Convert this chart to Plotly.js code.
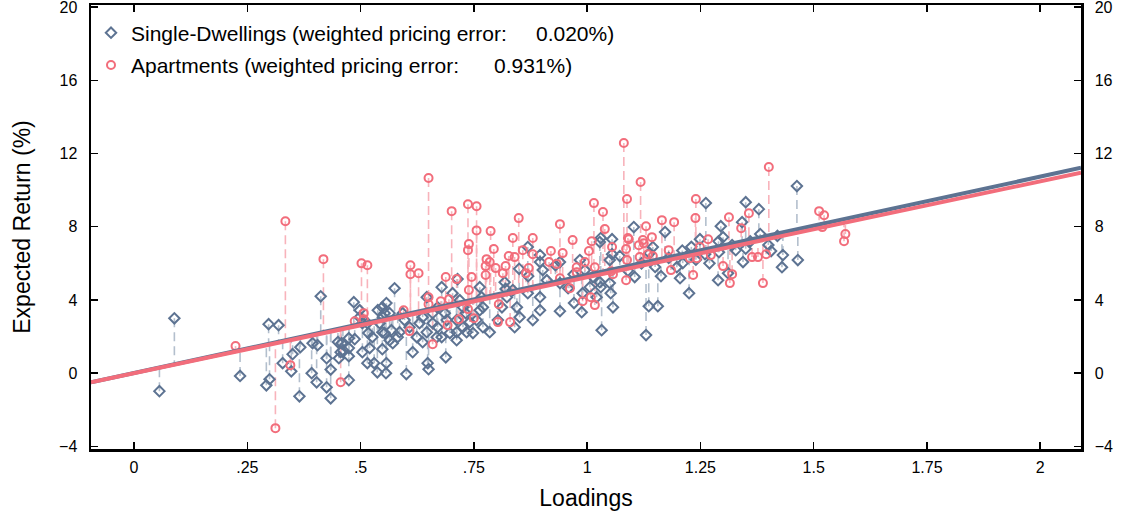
<!DOCTYPE html>
<html>
<head>
<meta charset="utf-8">
<script src="https://cdn.plot.ly/plotly-3.0.1.min.js"></script>
<style>html,body{margin:0;padding:0;background:#fff;}#chart{width:1122px;height:518px;}</style>
</head>
<body>
<div id="chart"></div>
<script>
// Single-Dwellings (diamonds)
const sdX = [0.056,0.089,0.234,0.297,0.319,0.292,0.299,0.328,0.347,0.35,0.365,0.367,0.394,0.392,0.403,0.405,0.412,0.425,0.425,0.434,0.434,0.452,0.45,0.458,0.461,0.474,0.474,0.485,0.487,0.498,0.504,0.517,0.515,0.537,0.548,0.556,0.456,0.504,0.498,0.515,0.526,0.52,0.53,0.474,0.474,0.538,0.548,0.557,0.553,0.542,0.548,0.557,
0.575,0.601,0.648,0.65,0.688,0.615,0.637,0.564,0.568,0.586,0.597,0.564,0.646,0.659,0.67,0.679,0.697,0.679,0.714,0.703,0.719,0.726,0.734,0.748,0.712,0.732,0.763,0.767,0.77,0.785,0.803,0.812,0.823,0.818,0.836,0.845,0.84,0.851,0.869,0.869,0.88,0.896,0.896,0.896,0.902,0.911,0.94,0.94,0.94,0.958,0.971,0.988,0.99,1.006,1.028,1.032,1.021,1.057,1.052,1.05,1.055,1.028,1.072,0.984,0.995,1.013,
0.549,0.553,0.571,0.582,0.593,0.608,0.624,0.63,0.637,0.646,0.659,0.668,0.67,0.686,0.69,0.712,0.712,0.726,0.741,0.756,0.763,0.77,
1.463,1.262,1.35,1.379,1.103,1.172,1.295,1.342,1.055,1.145,1.249,1.3,1.382,1.406,1.432,1.43,1.465,1.344,1.328,1.291,1.289,1.311,1.105,1.163,1.225,1.198,1.211,1.205,1.138,1.136,1.156,1.13,1.05,1.03,1.03,
1.18,1.21,1.23,1.26,1.27,1.32,1.36,1.4,1.12,1.09,1.15,1.24,1.29,1.35,1.42,0.896,0.85,0.93,0.97,0.87,0.82];
const sdY = [-0.98,3.0,-0.15,2.68,2.62,-0.66,-0.33,0.55,0.1,1.04,-1.26,1.42,1.64,0.0,-0.5,1.53,4.2,0.82,-0.77,0.2,-1.37,0.82,1.7,1.64,1.26,0.93,-0.38,3.88,1.86,3.44,1.15,2.19,0.55,0.05,1.31,0.0,1.15,2.73,3.06,2.73,1.97,1.37,0.55,1.91,1.37,3.44,3.6,3.83,3.28,2.73,2.24,0.55,
4.64,-0.05,0.55,0.22,0.87,1.15,1.69,1.8,2.35,2.24,2.9,3.28,4.15,3.28,2.51,1.97,2.19,4.7,5.14,4.37,3.99,2.51,2.24,2.19,1.8,3.28,4.7,4.15,3.6,2.24,2.9,3.6,4.15,4.97,4.54,3.6,2.51,3.06,6.89,4.37,2.9,3.44,4.15,6.07,5.63,5.08,3.39,4.92,6.07,4.64,3.83,3.33,4.37,4.7,4.97,2.35,4.15,3.6,4.37,6.18,7.32,7.16,6.4,6.18,5.63,5.25,
3.06,2.19,1.64,1.97,3.28,2.51,1.97,2.73,3.06,2.24,2.73,1.97,3.6,3.28,2.9,2.9,2.24,3.6,2.79,2.9,3.44,2.51,
10.22,9.29,9.34,8.96,7.98,7.71,8.03,8.25,6.5,6.89,7.32,7.43,7.6,6.67,6.45,5.79,6.18,6.07,6.72,6.61,5.08,5.46,5.25,5.3,4.37,5.79,6.01,5.19,6.56,3.66,3.66,2.08,4.92,4.7,7.38,
6.3,6.7,6.9,6.5,6.0,7.0,7.2,7.0,6.0,5.6,5.8,6.2,7.2,6.8,7.5,6.45,5.7,5.9,5.4,5.3,4.6];

// Apartments (circles)
const apX = [0.224,0.334,0.312,0.345,0.418,0.456,0.487,0.502,0.515,0.507,0.507,0.65,0.61,0.61,0.628,0.595,0.608,0.659,0.65,0.65,0.701,0.737,0.756,0.756,0.739,0.737,0.688,0.712,0.745,0.692,0.717,0.737,0.739,0.75,0.677,0.695,
0.787,0.794,0.778,0.785,0.776,0.798,0.776,0.82,0.814,0.827,0.84,0.836,0.849,0.858,0.88,0.88,0.865,0.871,0.805,0.803,0.83,0.94,0.92,0.946,0.968,0.916,0.933,0.977,0.977,0.995,1.004,1.015,1.035,1.039,1.01,1.017,0.94,0.962,0.99,1.008,1.017,1.055,1.088,1.086,1.088,1.09,1.053,1.057,
1.081,1.118,1.092,1.13,1.165,1.192,1.24,1.239,1.401,1.313,1.357,1.34,1.512,1.523,1.57,1.567,1.388,1.086,1.114,1.123,1.125,1.143,1.116,1.134,1.145,1.18,1.185,1.234,1.227,1.242,1.249,1.267,1.273,1.3,1.32,1.315,1.364,1.377,1.395,1.519];
const apY = [1.48,8.3,-3.0,0.44,6.23,-0.49,2.84,6.0,5.9,3.28,2.95,10.66,5.9,5.4,5.46,3.44,2.3,1.58,4.15,3.77,8.85,9.23,9.12,7.8,7.05,6.72,5.25,5.14,5.25,2.62,2.95,3.5,4.54,3.0,3.93,4.04,
7.76,6.78,6.23,6.07,5.85,5.74,5.36,5.85,5.46,6.4,6.34,7.38,8.47,6.72,7.38,6.5,5.46,5.74,3.77,2.79,2.79,8.14,6.67,6.56,7.27,6.07,5.96,5.79,5.52,6.07,6.67,9.29,8.8,7.87,7.21,5.79,5.19,4.64,3.93,4.15,3.72,6.89,9.51,5.08,6.18,7.38,5.57,5.41,
12.57,10.44,7.32,8.03,8.36,8.25,9.51,8.47,11.26,8.52,8.74,7.92,8.85,8.63,7.6,7.21,4.92,6.78,6.99,7.27,7.1,7.43,6.34,6.5,6.4,6.72,5.63,5.36,6.28,6.28,6.89,7.32,6.45,5.85,5.41,4.92,6.34,6.34,6.5,7.98];

// Fitted lines (end points)
const fitX = [-0.095, 2.09];
const sdFitY = [-0.5, 11.22];
const apFitY = [-0.5, 10.95];

const xTickVals = [0,0.25,0.5,0.75,1,1.25,1.5,1.75,2];
const xTickText = ['0','.25','.5','.75','1','1.25','1.5','1.75','2'];
const yTickVals = [-4,0,4,8,12,16,20];

const legendSD = 'Single-Dwellings (weighted pricing error:\u00a0\u00a0\u00a0\u00a0 0.020%)';
const legendAP = 'Apartments (weighted pricing error:\u00a0\u00a0\u00a0\u00a0\u00a0 0.931%)';

const BLUE = '#5d7392', PINK = '#f26d7b';
const BLUE_L = '#b3bfcd', PINK_L = '#f8b3bb';

function interp(xs, ys, x){ return ys[0] + (ys[1]-ys[0])*(x-xs[0])/(xs[1]-xs[0]); }
function drops(px, py, fy){
  const X=[], Y=[];
  px.forEach((x,i)=>{ X.push(x,x,null); Y.push(py[i], interp(fitX, fy, x), null); });
  return {X,Y};
}
const dSD = drops(sdX, sdY, sdFitY), dAP = drops(apX, apY, apFitY);

const FONT = 'Liberation Sans, Arial, sans-serif';
const traces = [
  {x:dSD.X, y:dSD.Y, mode:'lines', line:{color:BLUE_L, width:1.6, dash:'9px,5px'}, showlegend:false, hoverinfo:'skip'},
  {x:dAP.X, y:dAP.Y, mode:'lines', line:{color:PINK_L, width:1.6, dash:'9px,5px'}, showlegend:false, hoverinfo:'skip'},
  {x:sdX, y:sdY, mode:'markers', name:legendSD, legendgroup:'a', marker:{symbol:'diamond-open', size:8, color:BLUE, line:{width:2, color:BLUE}}},
  {x:apX, y:apY, mode:'markers', name:legendAP, legendgroup:'b', marker:{symbol:'circle-open', size:8, color:PINK, line:{width:2, color:PINK}}},
  {x:fitX, y:sdFitY, mode:'lines', line:{color:BLUE, width:4}, showlegend:false, hoverinfo:'skip'},
  {x:fitX, y:apFitY, mode:'lines', line:{color:PINK, width:4}, showlegend:false, hoverinfo:'skip'},
  {x:[null], y:[null], yaxis:'y2', showlegend:false}
];

const yCommon = {range:[-4.14,20.11], tickvals:yTickVals, ticks:'inside', ticklen:7, tickwidth:1.5, tickcolor:'#000',
  showline:true, linewidth:2.5, linecolor:'#000', showgrid:false, zeroline:false, ticklabeloverflow:'allow',
  tickfont:{family:FONT, size:16, color:'#000'}, ticklabelstandoff:8, fixedrange:true};

const layout = {
  width:1122, height:518,
  margin:{l:91, r:41, t:5, b:69},
  paper_bgcolor:'#fff', plot_bgcolor:'#fff',
  font:{family:FONT, color:'#000'},
  xaxis:{range:[-0.095,2.09], tickvals:xTickVals, ticktext:xTickText, ticks:'inside', ticklen:7, tickwidth:1.5, tickcolor:'#000',
    showline:true, linewidth:2.5, linecolor:'#000', mirror:'ticks', showgrid:false, zeroline:false,
    tickfont:{family:FONT, size:16, color:'#000'}, ticklabelstandoff:2,
    title:{text:'Loadings', font:{family:FONT, size:23, color:'#000'}, standoff:15}},
  yaxis:Object.assign({}, yCommon, {title:{text:'Expected Return (%)', font:{family:FONT, size:23, color:'#000'}, standoff:22}}),
  yaxis2:Object.assign({}, yCommon, {overlaying:'y', side:'right', anchor:'x'}),
  showlegend:true,
  legend:{x:0.0, y:0.983, xanchor:'left', yanchor:'top', bgcolor:'rgba(0,0,0,0)', borderwidth:0,
    font:{family:FONT, size:21, color:'#000'}, traceorder:'grouped', tracegroupgap:2, itemwidth:30}
};

Plotly.newPlot('chart', traces, layout, {staticPlot:true, displayModeBar:false});
</script>
</body>
</html>
